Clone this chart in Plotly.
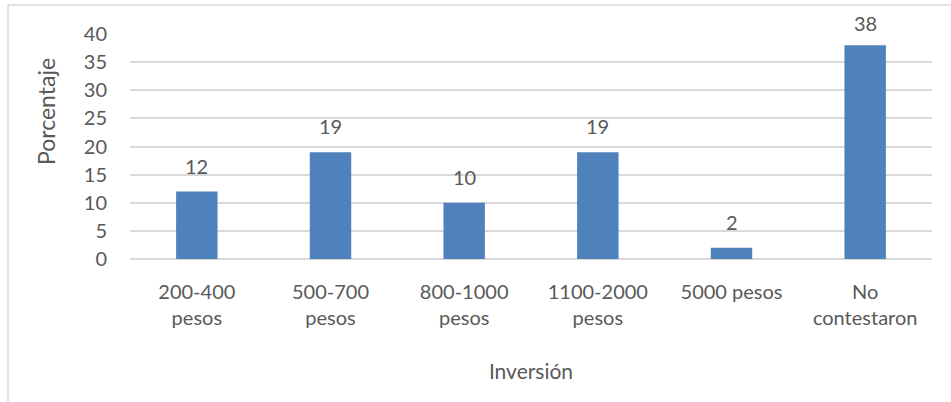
import plotly.graph_objects as go

# Investment ranges and share of respondents (%)
categories = ["200-400<br>pesos", "500-700<br>pesos", "800-1000<br>pesos",
              "1100-2000<br>pesos", "5000 pesos", "No<br>contestaron"]
percentages = [12, 19, 10, 19, 2, 38]
y_ticks = [0, 5, 10, 15, 20, 25, 30, 35, 40]

FONT = "Lato, 'Open Sans', sans-serif"
TEXT = "#595959"
GRID = "#D9D9D9"
BAR = "#4F81BD"

fig = go.Figure(
    go.Bar(
        x=categories,
        y=percentages,
        marker=dict(color=BAR, line=dict(width=0)),
        width=0.31,
        hoverinfo="x+y",
    )
)

# value labels above each bar
for c, v in zip(categories, percentages):
    fig.add_annotation(
        x=c, y=v, text=str(v), showarrow=False,
        yanchor="bottom", yshift=12 if v < 35 else 8,
        font=dict(family=FONT, size=20, color=TEXT),
    )

fig.update_layout(
    width=951, height=402,
    margin=dict(l=130, r=19, t=34, b=143),
    paper_bgcolor="white", plot_bgcolor="white",
    font=dict(family=FONT, size=20, color=TEXT),
    showlegend=False,
    bargap=0.69,
    xaxis=dict(
        showgrid=False, showline=False, zeroline=False,
        ticks="", tickfont=dict(size=20, color=TEXT),
        ticklabelstandoff=19,
        title=dict(text="Inversión", font=dict(size=21, color=TEXT), standoff=36),
    ),
    yaxis=dict(
        range=[0, 40], tickvals=y_ticks,
        showgrid=True, gridcolor=GRID, gridwidth=1.5,
        zeroline=True, zerolinecolor=GRID, zerolinewidth=1.5,
        showline=False, ticks="",
        ticklabelstandoff=22,
        tickfont=dict(size=20, color=TEXT),
    ),
    shapes=[dict(
        type="rect", xref="paper", yref="paper",
        x0=(8 - 130) / 802, x1=(960 - 130) / 802,
        y0=(259 - 410) / 225, y1=(259 - 5) / 225,
        line=dict(color="#D9D9D9", width=1.5), fillcolor="rgba(0,0,0,0)",
        layer="below",
    )],
)

# vertical axis title
fig.add_annotation(
    xref="paper", yref="paper",
    x=(46 - 130) / 802, y=(259 - 112) / 225,
    xanchor="center", yanchor="middle",
    text="Porcentaje", textangle=-90, showarrow=False,
    font=dict(family=FONT, size=23, color=TEXT),
)

fig.write_html("out.html")
